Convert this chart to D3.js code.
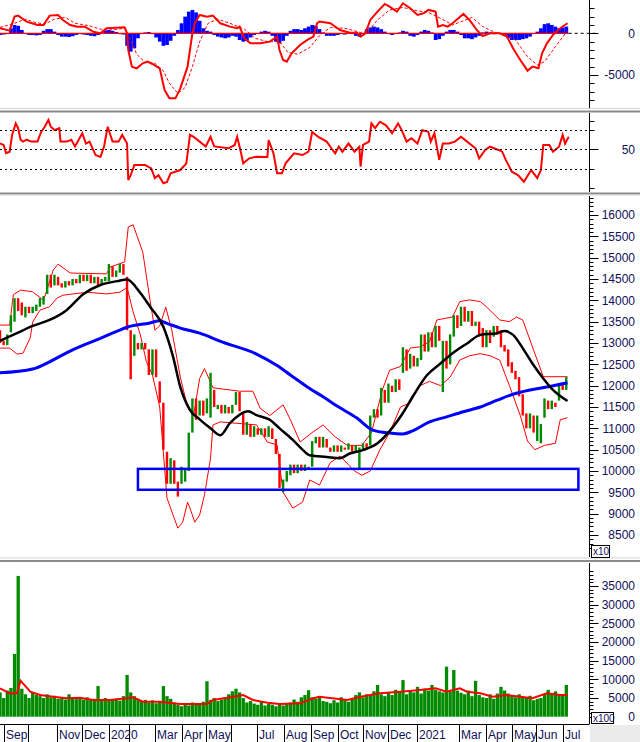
<!DOCTYPE html>
<html>
<head>
<meta charset="utf-8">
<script src="https://cdn.jsdelivr.net/npm/d3@7"></script>
<style>
  body { margin: 0; background: #fff; }
  svg text { font-family: "Liberation Sans", Arial, sans-serif; }
</style>
</head>
<body>
<div id="chart"></div>
<script>
// ---- data (sessions counted from the first bar, 3 sessions per candle sample) ----
const candleStep = 3;
const openPx = [13300,13050,12950,13250,13500,14050,13950,13600,13850,13700,
  13750,13850,13900,14150,14600,14350,14550,14400,14300,14450,
  14350,14500,14400,14600,14450,14600,14400,14550,14350,14450,
  14450,14800,14550,14650,14850,14550,13300,12700,13000,12850,
  13000,12850,12250,12850,12100,11600,10450,9700,10250,9750,
  9700,9750,10000,10900,11700,11300,11650,11350,11250,11900,
  11450,11550,11350,11500,11350,11550,11850,11350,10850,11100,
  10800,11000,10850,11000,10800,11000,10750,10400,9500,9750,
  9900,10150,9950,10150,10000,10100,10100,10650,10800,10550,
  10750,10550,10450,10600,10450,10550,10500,10600,10450,10050,
  10500,10650,10600,11250,11450,11300,11900,11600,12000,11850,
  12150,12300,12850,12400,12700,12450,12600,13200,12800,13250,
  12900,13400,11850,13050,12500,13150,13650,13400,13850,13500,
  13750,13400,13500,13350,12900,13300,13150,13400,13300,12950,
  12850,12550,12350,12200,11800,11350,11000,11300,10700,10650,
  11250,11650,11450,11600,11650,12050,11900];
const closePx = [13000,12950,13200,13650,14050,13750,13650,13850,13700,13850,
  13900,14050,14100,14600,14300,14600,14350,14300,14450,14350,
  14500,14400,14600,14450,14600,14400,14550,14350,14500,14550,
  14850,14550,14700,14850,14600,13300,12150,13200,12850,13000,
  12850,12250,12850,12200,11600,10500,9700,10300,9700,9400,
  10100,10050,10900,11700,11200,11650,11300,11700,12300,11500,
  11550,11350,11550,11350,11550,11850,11400,10850,11150,10800,
  11050,10850,11000,10800,11050,10750,10400,9600,9800,10000,
  10150,9950,10150,10000,10150,10050,10700,10800,10550,10800,
  10550,10450,10600,10450,10600,10500,10650,10450,10600,10550,
  10650,10500,11300,11450,11250,11950,11600,12050,11850,12150,
  11900,12900,12350,12750,12450,12650,13200,12800,13250,12900,
  13400,13050,13050,12400,13200,13650,13350,13850,13500,13750,
  13400,13500,13150,12900,13300,13000,13400,13200,12900,12800,
  12450,12300,12150,11750,11300,11000,11350,10900,11300,11100,
  11700,11450,11650,11500,12050,11900,12200];
const volume = [6500,5000,7000,7700,16800,37700,7500,6000,5000,6500,
  5800,5500,5000,6000,5200,5600,4800,5200,4600,6000,
  5000,4700,5000,4600,5200,4500,4800,8200,4400,5000,
  4200,4500,4800,4300,5500,11200,6500,5500,4800,4200,
  4500,3800,4400,3600,4000,8200,5500,4800,3800,3200,
  2800,3500,3000,3800,3200,3600,4000,9500,4500,5000,
  4200,4600,5200,6000,6800,7500,6500,5000,3800,4200,
  3500,3200,4000,3000,3400,3200,2800,3600,3000,3400,
  3800,4600,4000,5200,5800,7100,5200,4800,5500,4200,
  4000,3600,4400,3800,5200,4600,4000,5000,5800,6500,
  5200,6000,5800,6800,8500,6000,5500,6500,5800,7200,
  6800,9800,6000,7000,6500,8000,6200,7500,7000,8500,
  7200,6800,6500,13400,6800,12500,7000,6400,6000,7000,
  5500,9600,5800,5200,5000,6000,4800,6200,8000,7000,
  6200,5800,5200,6000,5400,5000,5600,4400,4800,5000,
  6000,7200,6200,6800,6000,5800,8500];
const macdHist = [-200,-150,-100,600,1000,900,400,-100,-200,-200,
  -250,-200,300,500,500,200,-200,-400,-400,-450,
  -350,-200,-100,-150,-200,-300,-350,-200,100,350,
  400,300,150,-100,-150,-1500,-2200,-1800,-600,-100,
  100,150,-100,-500,-1000,-1500,-1400,-900,-300,400,
  1200,2000,2600,2800,2500,1500,600,300,200,-200,
  -400,-500,-600,-500,-300,-400,-800,-1000,-900,-500,
  -200,-100,200,300,200,-300,-1000,-1200,-900,-300,
  300,500,500,400,600,800,1000,900,500,100,
  -300,-300,-300,-200,-100,-150,100,-100,-300,-400,
  0,500,700,800,700,500,200,-100,-200,-100,
  100,300,200,-300,-400,-200,200,400,300,100,
  -800,-700,-300,200,400,400,200,-200,-600,-600,
  -700,-500,-300,100,200,100,-100,-50,-100,-300,
  -600,-800,-800,-800,-700,-600,-400,-100,200,600,
  1100,1200,1000,800,600,700,800];

// [session, value]
const ma200 = [[0,12300],[27,12390],[41,12560],[55,12770],[69,12950],[83,13110],[97,13280],[105,13370],
  [124,13470],[132,13520],[138,13460],[149,13350],[165,13230],[184,13020],[212,12740],[229,12470],
  [240,12250],[254,11970],[267,11740],[281,11480],[295,11240],[308,10960],[322,10890],[333,10870],
  [341,10940],[355,11150],[369,11270],[383,11390],[397,11500],[411,11660],[424,11800],[438,11900],
  [452,11970],[469,12070]];
const maMid = [[0,13050],[14,13230],[27,13400],[41,13540],[55,13770],[69,14150],[83,14360],[97,14450],
  [105,14490],[116,14170],[124,13850],[135,13380],[143,12680],[149,11970],[157,11430],[165,11210],
  [174,11000],[182,10840],[190,11120],[205,11400],[212,11310],[223,11200],[231,11000],[242,10730],
  [250,10500],[256,10370],[270,10330],[281,10300],[289,10410],[300,10490],[312,10650],[325,11040],
  [333,11360],[341,11740],[353,12250],[364,12520],[374,12760],[386,12990],[397,13190],[411,13230],
  [417,13280],[424,13190],[432,12880],[440,12520],[449,12170],[457,11900],[469,11640]];
const bandUp = [[0,13420],[8,13420],[11,14130],[17,14240],[27,14200],[36,14000],[44,14710],[48,14850],
  [58,14640],[88,14620],[91,14780],[103,14900],[106,15720],[110,15770],[118,15130],[124,14000],
  [128,13300],[132,13400],[137,13840],[142,13300],[149,12200],[155,11500],[160,11300],[165,12170],
  [169,12400],[176,11950],[198,11870],[209,11870],[215,11470],[223,11300],[234,11550],[240,11200],
  [248,10680],[258,10900],[267,11080],[277,10800],[287,10600],[299,10600],[307,10900],[316,11900],
  [322,12360],[331,12450],[339,12880],[347,12910],[355,13030],[361,13540],[374,13610],[380,13970],
  [388,14010],[397,13970],[402,13850],[413,13540],[421,13500],[427,13610],[432,13540],[438,13070],
  [444,12600],[449,12210],[469,12210]];
const bandLo = [[0,12880],[8,12880],[14,12740],[19,12760],[25,13120],[27,13490],[33,13770],[41,13850],
  [47,14050],[52,14120],[72,14190],[88,14150],[99,14190],[105,14300],[110,13730],[116,13190],
  [121,12560],[126,12250],[132,11500],[138,9370],[143,8970],[147,8660],[151,8800],[155,9270],
  [157,9130],[161,8800],[165,8970],[169,9440],[174,10300],[176,11080],[182,11150],[212,11080],
  [221,10680],[229,10610],[234,9500],[242,9130],[250,9270],[256,9790],[264,9670],[273,10200],
  [281,10350],[293,10000],[299,9900],[306,10000],[314,10500],[322,10900],[331,11500],[339,11600],
  [347,12000],[355,12100],[364,12000],[372,12200],[380,12600],[388,12700],[397,12750],[405,12700],
  [413,12600],[421,12000],[430,11300],[436,10700],[442,10500],[450,10600],[459,10650],[463,11200],
  [469,11250]];
const volMa = [[0,7600],[8,6260],[14,6260],[17,9640],[25,6700],[33,5800],[44,5360],[55,4930],[66,5090],
  [77,4470],[91,4470],[105,4930],[110,5200],[118,4020],[132,4020],[149,3400],[171,3400],[176,4470],
  [193,5360],[201,5800],[209,4470],[221,3750],[231,3400],[248,3580],[259,4930],[264,5360],[287,4470],
  [298,5360],[314,6260],[331,6700],[347,7150],[360,7600],[369,6700],[380,7600],[386,6700],[397,6260],
  [407,5360],[419,5800],[430,5360],[440,4930],[452,6260],[463,5800],[469,5800]];
const macdLine = [[0,600],[8,320],[12,2000],[15,2120],[22,1400],[31,1000],[36,1000],[41,2120],[48,2200],
  [52,1600],[58,1000],[64,800],[70,800],[77,200],[83,0],[88,600],[103,720],[105,0],[106,-2000],
  [109,-4000],[113,-4200],[118,-3600],[122,-3400],[126,-3680],[132,-4200],[136,-6800],[140,-7800],
  [145,-7800],[149,-6600],[155,-4000],[159,0],[161,1200],[165,2200],[171,2000],[176,2120],[182,1200],
  [190,800],[196,600],[198,800],[202,-600],[207,-1200],[215,-1200],[223,-1000],[229,-400],[231,-2000],
  [234,-3200],[237,-3400],[241,-2400],[248,-1400],[254,-800],[259,-400],[262,1200],[264,1400],
  [273,1200],[281,400],[289,80],[295,80],[298,-400],[302,0],[306,1600],[312,2600],[318,3520],
  [322,3200],[328,2600],[333,3600],[339,3000],[345,2200],[350,2400],[354,2800],[360,2600],[362,800],
  [366,1000],[370,800],[374,1200],[383,2320],[388,1600],[394,400],[399,-320],[405,0],[413,0],
  [419,-400],[424,-1800],[430,-3200],[436,-4480],[440,-4000],[445,-4200],[448,-2400],[452,-1200],
  [457,-200],[463,600],[469,1200]];
const macdSignal = [[0,700],[12,1200],[21,1700],[29,1300],[37,1100],[45,1700],[54,1900],[62,1200],
  [74,900],[83,500],[91,400],[103,600],[107,-500],[113,-2500],[120,-3500],[128,-3600],[135,-4500],
  [140,-6000],[147,-7200],[153,-6500],[159,-4000],[165,-1000],[172,1200],[180,1700],[190,1200],
  [202,500],[211,-600],[221,-1000],[231,-1000],[238,-2300],[246,-2500],[256,-1700],[264,-300],
  [273,700],[285,600],[298,100],[304,200],[312,1600],[322,2800],[333,3100],[345,2700],[354,2500],
  [364,1800],[374,1000],[383,1500],[390,1900],[399,800],[409,100],[417,-100],[426,-800],[436,-2800],
  [444,-3800],[450,-3400],[459,-1600],[469,300]];
const rsi = [[0,56],[3,54.5],[5,46],[8,47.5],[10,65],[13,77],[15,72],[17,60],[19,58],[22,60],[26,58],
  [31,58],[34,68],[37,73.5],[40,80.5],[42,73.5],[45,70],[49,72],[50,58],[55,58],[59,60],[62,53],
  [68,66.7],[71,56],[74,58],[79,44],[83,42],[86,53],[89,73.5],[93,58],[98,58],[101,65],[105,56],
  [106,18],[108,23],[111,33.6],[120,33.6],[125,30],[128,20],[131,23],[135,14.6],[138,16],[141,25],
  [149,28.4],[154,35.4],[157,65],[160,63],[165,58],[170,53],[174,63],[177,53],[189,51],[194,54.5],
  [196,63],[199,47.5],[201,35.4],[206,40.6],[212,42.3],[221,42],[222,59.7],[226,45.8],[229,25],
  [233,25],[236,35.4],[243,45.8],[250,44],[255,47.5],[258,68],[263,63],[270,58],[273,52.7],[277,45.8],
  [280,52.7],[283,47.5],[288,56],[293,47.5],[297,52.7],[298,32],[300,54.5],[305,58],[307,77],[310,72],
  [314,78.7],[319,75],[324,66.7],[329,77],[332,70],[336,58],[340,61.5],[345,56],[349,70],[354,68.3],
  [356,58],[359,66.7],[363,39],[366,56],[371,56],[376,58],[381,63],[386,58],[393,51],[396,40.6],
  [401,49.3],[405,52.7],[412,49.3],[415,47.5],[418,39],[423,26.7],[428,23.2],[433,16.2],[439,28.4],
  [444,20],[447,28.4],[449,54.5],[454,54.5],[457,47.5],[462,52.7],[465,65],[467,56],[470,63]];
// support zone: [start session, end session, low, high]
const zone = [114, 478, 9560, 10050];
const monthLabels = ["Sep","","Nov","Dec","2020","","Mar","Apr","May","","Jul","Aug","Sep","Oct",
  "Nov","Dec","2021","Mar","Apr","May","Jun","Jul"];
const monthStarts = [3,23,47,68,90,107,128,150,170,191,212,235,257,279,300,321,345,379,402,423,443,465];

// ---- layout ----
const W = 640, H = 742, axisX = 589.5, labelX = 635;
const textColor = "#10105a";
const svg = d3.select("#chart").append("svg").attr("width", W).attr("height", H);
const x = d3.scaleLinear().domain([0, 470]).range([0, 568.7]);

const panels = {
  macd: { top: 0, bottom: 108 },
  rsi: { top: 113, bottom: 192 },
  price: { top: 196, bottom: 557 },
  vol: { top: 563, bottom: 724 }
};
const yMacd = d3.scaleLinear().domain([-5000, 0]).range([75, 33.3]);
const yRsi = d3.scaleLinear().domain([30, 70]).range([168.5, 130.1]);
const yPrice = d3.scaleLinear().domain([8500, 16000]).range([535, 215]);
const yVol = d3.scaleLinear().domain([0, 35000]).range([716.7, 586]);

// panel separators
[[108, 1, "#d4d4d4"], [110.5, 2, "#8a8a8a"], [192.5, 2, "#8a8a8a"], [194.5, 1, "#d4d4d4"],
 [557.5, 1, "#d4d4d4"], [560, 2, "#8a8a8a"]].forEach(s => {
  svg.append("rect").attr("x", 0).attr("y", s[0]).attr("width", W).attr("height", s[1]).attr("fill", s[2]);
});

Object.entries(panels).forEach(([k, p]) => {
  svg.append("clipPath").attr("id", "clip-" + k).append("rect")
    .attr("x", 0).attr("y", p.top).attr("width", axisX).attr("height", p.bottom - p.top);
});

const line = (y) => d3.line().x(d => x(d[0])).y(d => y(d[1]));

function axis(y, p, majors, minors, minorLen, fmt) {
  const g = svg.append("g").attr("transform", `translate(${axisX},0)`);
  g.append("line").attr("y1", p.top).attr("y2", p.bottom).attr("stroke", "#000");
  const inRange = v => y(v) >= p.top && y(v) <= p.bottom;
  g.selectAll(".mn").data(minors.filter(inRange)).join("line")
    .attr("y1", d => Math.round(y(d)) + 0.5).attr("y2", d => Math.round(y(d)) + 0.5)
    .attr("x2", minorLen).attr("stroke", "#000");
  g.selectAll(".mj").data(majors.filter(inRange)).join("line")
    .attr("y1", d => Math.round(y(d)) + 0.5).attr("y2", d => Math.round(y(d)) + 0.5)
    .attr("x2", 9).attr("stroke", "#000");
  g.selectAll("text").data(majors.filter(inRange)).join("text")
    .attr("x", labelX - axisX).attr("y", d => y(d)).attr("dy", "0.36em")
    .attr("text-anchor", "end").attr("font-size", 12).attr("fill", textColor)
    .text(fmt);
}

// ---- MACD panel ----
const gM = svg.append("g").attr("clip-path", "url(#clip-macd)");
gM.selectAll("rect").data(macdHist).join("rect")
  .attr("x", (d, i) => x(i * candleStep) - 1.8)
  .attr("width", 3.7)
  .attr("y", d => Math.min(yMacd(d), yMacd(0)))
  .attr("height", d => Math.abs(yMacd(d) - yMacd(0)))
  .attr("fill", "#0000ff");
gM.append("line").attr("x1", 0).attr("x2", x(470)).attr("y1", yMacd(0)).attr("y2", yMacd(0))
  .attr("stroke", "#ff0000").attr("stroke-width", 1.2);
gM.append("path").attr("d", line(yMacd)(macdSignal)).attr("fill", "none")
  .attr("stroke", "#ff0000").attr("stroke-width", 1).attr("stroke-dasharray", "3,2");
gM.append("path").attr("d", line(yMacd)(macdLine)).attr("fill", "none")
  .attr("stroke", "#ff0000").attr("stroke-width", 2);
svg.append("line").attr("x1", x(470)).attr("x2", 598).attr("y1", yMacd(0)).attr("y2", yMacd(0))
  .attr("stroke", "#000").attr("stroke-dasharray", "3,3");
axis(yMacd, panels.macd, [0, -5000], d3.range(-9000, 4001, 1000), 5, d => d);

// ---- RSI panel ----
const gR = svg.append("g").attr("clip-path", "url(#clip-rsi)");
[70, 50, 30].forEach(v => {
  svg.append("line").attr("x1", 0).attr("x2", v === 50 ? 598 : axisX)
    .attr("y1", Math.round(yRsi(v)) + 0.5).attr("y2", Math.round(yRsi(v)) + 0.5)
    .attr("stroke", "#000").attr("stroke-dasharray", "2,3");
});
gR.append("path").attr("d", line(yRsi)(rsi)).attr("fill", "none")
  .attr("stroke", "#ff0000").attr("stroke-width", 2);
axis(yRsi, panels.rsi, [50], [10, 30, 70, 80], 5, d => d);

// ---- price panel ----
const gP = svg.append("g").attr("clip-path", "url(#clip-price)");
[bandUp, bandLo].forEach(b => {
  gP.append("path").attr("d", line(yPrice)(b)).attr("fill", "none")
    .attr("stroke", "#ff0000").attr("stroke-width", 1);
});
gP.selectAll(".candle").data(openPx).join("rect").attr("class", "candle")
  .attr("x", (d, i) => x(i * candleStep) - 1.2)
  .attr("width", 2.4)
  .attr("y", (d, i) => yPrice(Math.max(d, closePx[i])))
  .attr("height", (d, i) => Math.max(1, Math.abs(yPrice(d) - yPrice(closePx[i]))))
  .attr("fill", (d, i) => closePx[i] >= d ? "#008a00" : "#ff0000");
gP.append("path").attr("d", line(yPrice).curve(d3.curveMonotoneX)(ma200)).attr("fill", "none")
  .attr("stroke", "#0000ff").attr("stroke-width", 3);
gP.append("path").attr("d", line(yPrice).curve(d3.curveMonotoneX)(maMid)).attr("fill", "none")
  .attr("stroke", "#000").attr("stroke-width", 2.5);
gP.append("rect")
  .attr("x", x(zone[0])).attr("width", x(zone[1]) - x(zone[0]))
  .attr("y", yPrice(zone[3])).attr("height", yPrice(zone[2]) - yPrice(zone[3]))
  .attr("fill", "none").attr("stroke", "#0000ff").attr("stroke-width", 2.5);
axis(yPrice, panels.price, d3.range(8500, 16001, 500), d3.range(8200, 16500, 100), 4, d => d);
svg.append("rect").attr("x", 591.5).attr("y", 545.5).attr("width", 18).attr("height", 12)
  .attr("fill", "#fff").attr("stroke", "#000");
svg.append("text").attr("x", 593).attr("y", 555).attr("font-size", 10).attr("fill", textColor).text("x10");

// ---- volume panel ----
const gV = svg.append("g").attr("clip-path", "url(#clip-vol)");
gV.selectAll("rect").data(volume).join("rect")
  .attr("x", (d, i) => x(i * candleStep) - 1.6)
  .attr("width", 3.3)
  .attr("y", d => yVol(d))
  .attr("height", d => yVol(0) - yVol(d))
  .attr("fill", "#008a00");
gV.append("path").attr("d", line(yVol)(volMa)).attr("fill", "none")
  .attr("stroke", "#ff0000").attr("stroke-width", 2);
axis(yVol, panels.vol, d3.range(0, 35001, 5000), d3.range(0, 39001, 1000), 4, d => d);
svg.append("rect").attr("x", 591.5).attr("y", 712.5).attr("width", 22).attr("height", 11)
  .attr("fill", "#fff").attr("stroke", "#000");
svg.append("text").attr("x", 593).attr("y", 722).attr("font-size", 10).attr("fill", textColor).text("x100");

// ---- time axis ----
svg.append("rect").attr("x", axisX + 0.5).attr("y", 725).attr("width", W - axisX).attr("height", H - 725)
  .attr("fill", "#ebebeb");
svg.append("line").attr("x1", 0).attr("x2", axisX).attr("y1", 724.5).attr("y2", 724.5).attr("stroke", "#000");
const gX = svg.append("g");
gX.selectAll("line").data(monthStarts).join("line")
  .attr("x1", d => Math.round(x(d)) + 0.5).attr("x2", d => Math.round(x(d)) + 0.5)
  .attr("y1", 725).attr("y2", H).attr("stroke", "#000");
gX.selectAll("text").data(monthStarts).join("text")
  .attr("x", d => Math.round(x(d)) + 2).attr("y", 739)
  .attr("font-size", 12).attr("fill", textColor)
  .text((d, i) => monthLabels[i]);
</script>
</body>
</html>
